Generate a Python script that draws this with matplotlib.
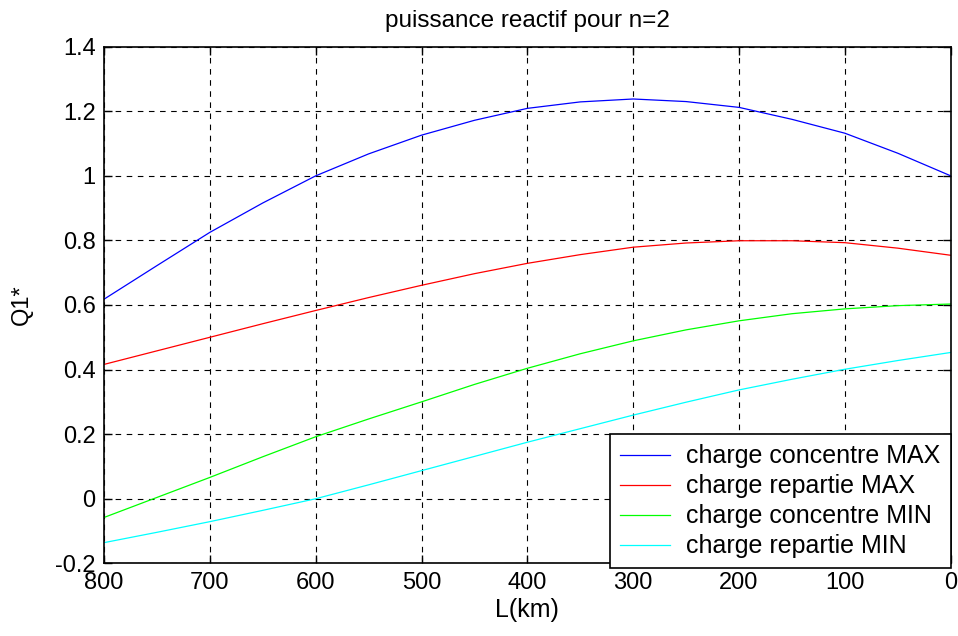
"""Recreate the 'puissance reactif pour n=2' MATLAB-style chart."""

import matplotlib

matplotlib.use("Agg")
import matplotlib.pyplot as plt
from matplotlib.ticker import FormatStrFormatter, MultipleLocator

# line length L (km), read every 50 km
L_KM = [800, 750, 700, 650, 600, 550, 500, 450, 400, 350, 300, 250, 200, 150, 100, 50, 0]

Q_CONC_MAX = [0.618, 0.722, 0.825, 0.916, 1.000, 1.068, 1.126, 1.172, 1.209, 1.229,
              1.238, 1.230, 1.212, 1.175, 1.132, 1.070, 1.000]
Q_REP_MAX = [0.416, 0.458, 0.500, 0.542, 0.583, 0.623, 0.661, 0.697, 0.729, 0.756,
             0.779, 0.792, 0.799, 0.799, 0.793, 0.776, 0.754]
Q_CONC_MIN = [-0.058, 0.004, 0.066, 0.130, 0.192, 0.247, 0.300, 0.354, 0.404, 0.449,
              0.489, 0.523, 0.551, 0.573, 0.588, 0.598, 0.603]
Q_REP_MIN = [-0.136, -0.104, -0.071, -0.036, 0.000, 0.043, 0.087, 0.131, 0.175, 0.217,
             0.259, 0.299, 0.337, 0.370, 0.401, 0.428, 0.453]

SERIES = [
    ("charge concentre MAX", Q_CONC_MAX, "#0000ff"),
    ("charge repartie MAX", Q_REP_MAX, "#ff0000"),
    ("charge concentre MIN", Q_CONC_MIN, "#00ff00"),
    ("charge repartie MIN", Q_REP_MIN, "#00ffff"),
]

plt.rcParams["font.family"] = ["Liberation Sans", "DejaVu Sans"]
plt.rcParams["font.size"] = 17

fig = plt.figure(figsize=(9.58, 6.36), dpi=100)
ax = fig.add_axes([0.1086, 0.1143, 0.8838, 0.8123])

for label, ys, color in SERIES:
    ax.plot(L_KM, ys, color=color, lw=0.9, label=label)

ax.set_xlim(800, 0)
ax.set_ylim(-0.2, 1.4)
ax.xaxis.set_major_locator(MultipleLocator(100))
ax.yaxis.set_major_locator(MultipleLocator(0.2))
ax.yaxis.set_major_formatter(FormatStrFormatter("%g"))
ax.tick_params(direction="in", length=6, width=1, top=True, right=True,
               labelsize=17, color="black", pad=6)
for s in ax.spines.values():
    s.set_linewidth(1.2)
    s.set_color("black")
ax.grid(True, color="black", lw=0.8, ls=(0, (5, 5)))

ax.set_title("puissance reactif pour n=2", fontsize=17.5, pad=14)
ax.set_xlabel("L(km)", fontsize=18, labelpad=3)
ax.set_ylabel("Q1*", fontsize=17, labelpad=16)

leg = ax.legend(loc="lower right", bbox_to_anchor=(1.0, -0.0097), borderaxespad=0,
                fancybox=False, framealpha=1, edgecolor="black", fontsize=18,
                handlelength=2.0, handletextpad=0.65, labelspacing=0.24, borderpad=0.4)
leg.get_frame().set_linewidth(1.2)

fig.savefig("out.png", dpi=100, facecolor="white")
